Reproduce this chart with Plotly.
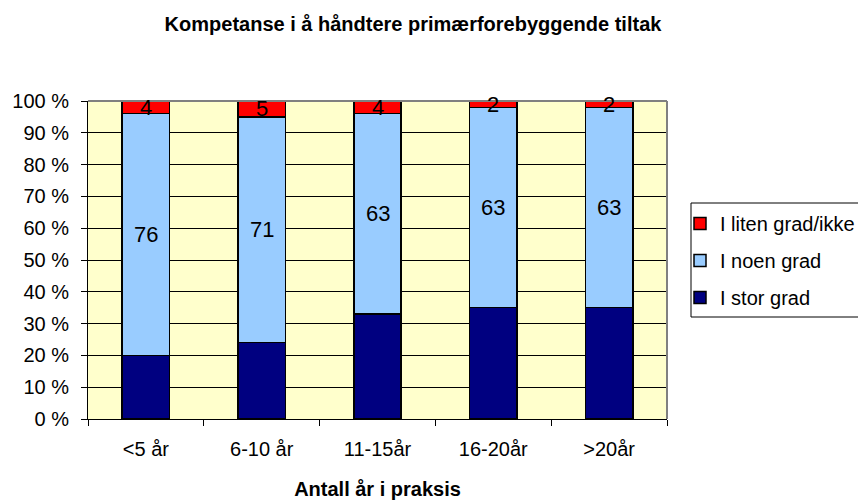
import plotly.graph_objects as go

categories = ["<5 år", "6-10 år", "11-15år", "16-20år", ">20år"]
stor = [20, 24, 33, 35, 35]
noen = [76, 71, 63, 63, 63]
liten = [4, 5, 4, 2, 2]
y_ticks = [0, 10, 20, 30, 40, 50, 60, 70, 80, 90, 100]
y_ticklabels = [f"{v} %" for v in y_ticks]

title = "Kompetanse i å håndtere primærforebyggende tiltak"
x_title = "Antall år i praksis"

FONT = "Liberation Sans, Arial, sans-serif"
W, H = 858, 500
ML, MR, MT, MB = 88, 191, 101, 81
PW = W - ML - MR
PH = H - MT - MB

fig = go.Figure()
series = [
    ("I stor grad", stor, "#000080", 3),
    ("I noen grad", noen, "#99CCFF", 2),
    ("I liten grad/ikke", liten, "#FF0000", 1),
]
for i, (name, vals, col, rank) in enumerate(series):
    fig.add_trace(go.Bar(
        x=categories, y=vals, name=name,
        marker=dict(color=col, line=dict(color="black", width=1.5)),
        legendgroup=f"g{i}", legendrank=rank,
    ))

# value labels for top two series
for ci, c in enumerate(categories):
    base = stor[ci]
    fig.add_annotation(x=c, y=base + noen[ci] / 2, text=str(noen[ci]),
                       showarrow=False, font=dict(family=FONT, size=22, color="black"),
                       xref="x", yref="y")
    base2 = base + noen[ci]
    fig.add_annotation(x=c, y=base2 + liten[ci] / 2, text=str(liten[ci]),
                       showarrow=False, font=dict(family=FONT, size=22, color="black"),
                       xref="x", yref="y")

def px_x(p):
    return (p - ML) / PW

def px_y(p):
    return (H - MB - p) / PH

# gray border top/right of plot area
fig.add_shape(type="line", xref="paper", yref="paper", x0=0, x1=1, y0=1, y1=1,
              line=dict(color="#808080", width=2), layer="above")
fig.add_shape(type="line", xref="paper", yref="paper", x0=1, x1=1, y0=0, y1=1,
              line=dict(color="#808080", width=2), layer="above")
# legend box
fig.add_shape(type="rect", xref="paper", yref="paper",
              x0=px_x(691), x1=px_x(880), y0=px_y(317), y1=px_y(203),
              line=dict(color="black", width=1), fillcolor="white", layer="below")

fig.update_layout(
    width=W, height=H,
    margin=dict(l=ML, r=MR, t=MT, b=MB, autoexpand=False),
    paper_bgcolor="white",
    plot_bgcolor="#FFFFCC",
    barmode="stack",
    bargap=0.59,
    font=dict(family=FONT, size=20, color="black"),
    title=dict(text=f"<b>{title}</b>", x=413 / W, xanchor="center", xref="container",
               y=1 - 24 / H, yanchor="middle", yref="container",
               font=dict(family=FONT, size=20, color="black")),
    legend=dict(
        xref="container", yref="container",
        x=680 / W, xanchor="left", y=1 - 204 / H, yanchor="top",
        traceorder="grouped", tracegroupgap=8,
        bgcolor="rgba(0,0,0,0)", borderwidth=0,
        font=dict(family=FONT, size=20, color="black"),
    ),
    showlegend=True,
)
fig.update_xaxes(
    showline=True, linecolor="black", linewidth=1,
    ticks="outside", tickson="boundaries", ticklen=6, tickcolor="black",
    ticklabelstandoff=12,
    tickfont=dict(family=FONT, size=20),
    title=dict(text=f"<b>{x_title}</b>", standoff=24, font=dict(family=FONT, size=20)),
    showgrid=False, automargin=False,
)
fig.update_yaxes(
    range=[0, 100], tickvals=y_ticks, ticktext=y_ticklabels,
    showline=True, linecolor="black", linewidth=1,
    ticks="outside", ticklen=6, tickcolor="black",
    ticklabelstandoff=8,
    tickfont=dict(family=FONT, size=20),
    showgrid=True, gridcolor="black", gridwidth=1,
    zeroline=False, automargin=False,
)

fig.write_html("out.html", config={"displayModeBar": False},
               post_script="document.body.style.margin='0';")
